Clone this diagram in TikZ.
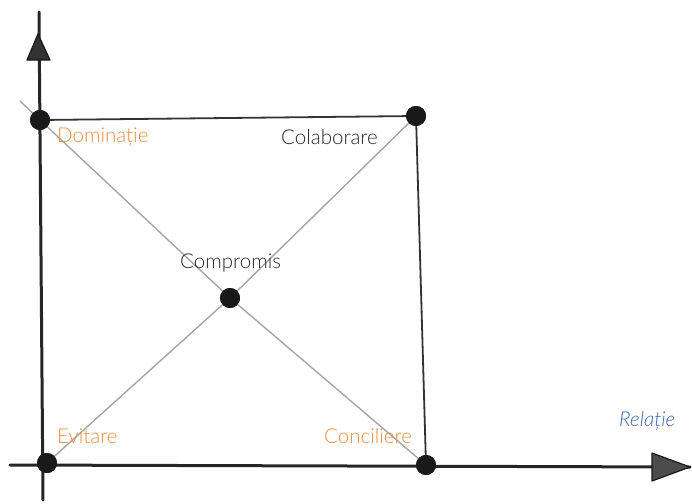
\documentclass[tikz,border=0pt]{standalone}
\usepackage{fontspec}
\setmainfont{Lato Light}
\usetikzlibrary{arrows.meta}
\definecolor{orangelbl}{RGB}{242,140,64}
\definecolor{bluelbl}{RGB}{62,104,184}
\definecolor{darklbl}{RGB}{40,40,50}
\definecolor{diag}{RGB}{165,165,165}
\tikzset{
  axis/.style={line width=3pt, black!85, line cap=round},
  edge/.style={line width=1.8pt, black!80},
  diagline/.style={line width=1.4pt, diag},
  dot/.style={circle, fill=black!90, inner sep=0pt, minimum size=20pt},
  lbl/.style={font=\fontsize{20.5}{23}\selectfont, inner sep=0pt, anchor=west},
  tip/.style={fill=black!80, draw=black!90, line width=1.2pt, line join=round}
}
\begin{document}
\begin{tikzpicture}[x=1pt,y=-1pt]
\useasboundingbox (0,0) rectangle (692,503);
% points
\coordinate (ytop) at (39,12);
\coordinate (ybot) at (43,500);
\coordinate (xleft) at (10,465);
\coordinate (xright) at (690,467);
\coordinate (dext) at (20,101);
% diagonals
\node[dot] (dom) at (40,120) {};
\node[dot] (col) at (416,116) {};
\node[dot] (comp) at (230,298) {};
\node[dot] (ev) at (47,463) {};
\node[dot] (conc) at (426,465) {};
\draw[diagline] (dext) -- (dom.center) -- (comp.center) -- (conc.center);
\draw[diagline] (ev.center) -- (comp.center) -- (col.center);
% square
\draw[edge] (dom.center) -- (col.center) -- (conc.center);
% axes
\draw[axis] (ybot) -- (ytop);
\draw[axis] (xleft) -- (xright);
\draw[tip] (38,34) -- (50,60) -- (27,60) -- cycle;
\draw[tip, fill=black!70] (690,467) -- (652,453) -- (652,481) -- cycle;
% redraw dots on top
\node[dot] at (dom) {};
\node[dot] at (col) {};
\node[dot] at (comp) {};
\node[dot] at (ev) {};
\node[dot] at (conc) {};
% labels
\node[lbl, text=orangelbl] (tdom) at (57,137) {Dominație};
\node[lbl, text=darklbl] (tcol) at (281,137) {Colaborare};
\node[lbl, text=darklbl] (tcomp) at (180,263) {Compromis};
\node[lbl, text=orangelbl] (tev) at (57,436) {Evitare};
\node[lbl, text=orangelbl] (tconc) at (324,436) {Conciliere};
\node[lbl, text=bluelbl, font=\fontsize{20.5}{23}\selectfont\itshape] (trel) at (619,421) {Relație};
\end{tikzpicture}
\end{document}
